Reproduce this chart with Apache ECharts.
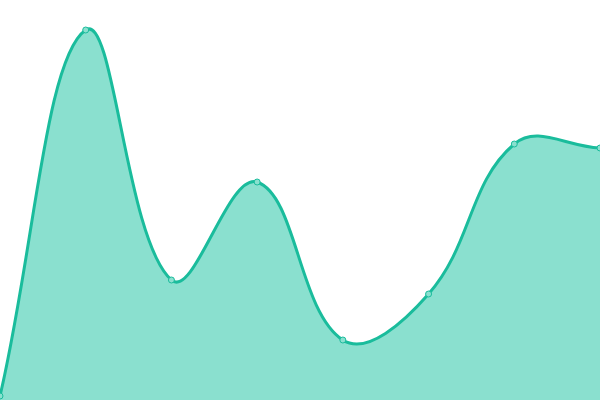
<!DOCTYPE html>
<html>
<head>
<meta charset="utf-8">
<style>
	html, body { margin: 0; padding: 0; background: #fff; }
	#chartId { width: 600px; height: 400px; }
</style>
<script src="https://cdn.jsdelivr.net/npm/echarts@6/dist/echarts.min.js"></script>
</head>
<body>
<div id="chartId"></div>
<script>
var categories = ["1", "2", "3", "4", "5", "6", "7", "8"];
var values = [1, 92.5, 30, 54.5, 15, 26.5, 64, 63];

var tension = 0.4;

//cardinal spline control points (overshooting curve, like the reference)
function getControlPoints(pts) {
	var cps = [];
	for(var i = 0; i < pts.length; i++) {
		var cur = pts[i];
		var prev = pts[i - 1] || cur;
		var next = pts[i + 1] || cur;
		var d01 = Math.sqrt(Math.pow(cur[0] - prev[0], 2) + Math.pow(cur[1] - prev[1], 2));
		var d12 = Math.sqrt(Math.pow(next[0] - cur[0], 2) + Math.pow(next[1] - cur[1], 2));
		var s01 = d01 / (d01 + d12);
		var s12 = d12 / (d01 + d12);
		if(isNaN(s01)) s01 = 0;
		if(isNaN(s12)) s12 = 0;
		var fa = tension * s01;
		var fb = tension * s12;
		cps.push({
			prev: [cur[0] - fa * (next[0] - prev[0]), cur[1] - fa * (next[1] - prev[1])],
			next: [cur[0] + fb * (next[0] - prev[0]), cur[1] + fb * (next[1] - prev[1])]
		});
	}
	return cps;
}

var SplineShape = echarts.graphic.extendShape({
	shape: {
		points: [],
		baseY: 0,
		closed: false
	},
	buildPath: function(ctx, shape) {
		var pts = shape.points;
		if(!pts.length) return;
		var cps = getControlPoints(pts);
		ctx.moveTo(pts[0][0], pts[0][1]);
		for(var i = 0; i < pts.length - 1; i++) {
			ctx.bezierCurveTo(cps[i].next[0], cps[i].next[1], cps[i + 1].prev[0], cps[i + 1].prev[1], pts[i + 1][0], pts[i + 1][1]);
		}
		if(shape.closed) {
			ctx.lineTo(pts[pts.length - 1][0], shape.baseY);
			ctx.lineTo(pts[0][0], shape.baseY);
			ctx.closePath();
		}
	}
});
echarts.graphic.registerShape('splineCurve', SplineShape);

function renderSpline(params, api) {
	if(params.dataIndex !== 0) return;
	var pts = [];
	for(var i = 0; i < values.length; i++) {
		pts.push(api.coord([i, values[i]]));
	}
	var baseY = api.coord([0, 0])[1];
	return {
		type: 'group',
		children: [{
			type: 'splineCurve',
			shape: { points: pts, baseY: baseY, closed: true },
			style: { fill: '#8ae0cf', stroke: null }
		}, {
			type: 'splineCurve',
			shape: { points: pts, closed: false },
			style: { fill: null, stroke: '#1abc9c', lineWidth: 3 }
		}]
	};
}

var seriesData = [];
for(var i = 0; i < values.length; i++) {
	seriesData.push([i, values[i]]);
}

var myChart = echarts.init(document.getElementById("chartId"));
var option = {
	animation: false,
	grid: {
		left: 0,
		right: 0,
		top: 0,
		bottom: 0
	},
	xAxis: {
		type: 'category',
		boundaryGap: false,
		show: false,
		data: categories
	},
	yAxis: {
		type: 'value',
		min: 0,
		max: 100,
		show: false
	},
	series: [{
		type: 'custom',
		renderItem: renderSpline,
		silent: true,
		z: 1,
		encode: { x: 0, y: 1 },
		data: seriesData
	}, {
		type: 'scatter',
		symbol: 'circle',
		symbolSize: 6,
		z: 2,
		itemStyle: {
			color: '#8ae0cf',
			borderColor: '#1abc9c',
			borderWidth: 1,
			opacity: 1
		},
		data: values
	}]
};
myChart.setOption(option);
</script>
</body>
</html>
